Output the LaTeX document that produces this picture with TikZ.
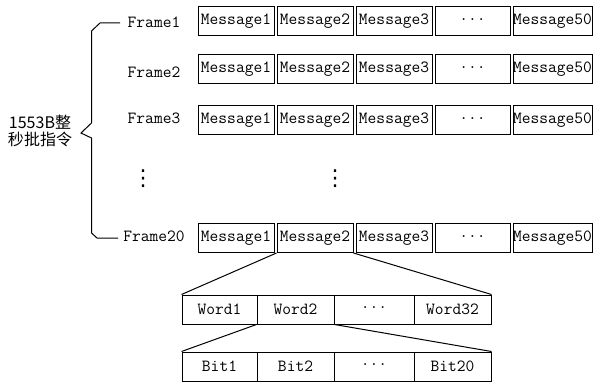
\documentclass[tikz,border=0pt]{standalone}
\usepackage{fontspec}
\newfontfamily\cjk{Noto Sans CJK SC}
\newfontfamily\djv{DejaVu Sans}
\newcommand{\hdots}{\raisebox{3pt}{...}}
\begin{document}
\begin{tikzpicture}[x=1pt,y=-1pt,
  box/.style={draw,line width=1pt,inner sep=0pt,font=\fontsize{17}{19}\selectfont\ttfamily},
  lbl/.style={inner sep=0pt,font=\fontsize{17}{19}\selectfont\ttfamily},
  vdt/.style={inner sep=0pt,font=\djv\fontsize{22}{24}\selectfont},
  ln/.style={line width=1pt}]
\useasboundingbox (0,0) rectangle (593,382);
% message rows
\foreach \r/\yt/\yb in {a/7/36, b/54/84, c/105/135, d/223/253}{
  \node[box,minimum width=76pt,minimum height=29pt] (\r1) at (236,{(\yt+\yb)/2}) {Message1};
  \node[box,minimum width=76pt,minimum height=29pt] (\r2) at (315,{(\yt+\yb)/2}) {Message2};
  \node[box,minimum width=76pt,minimum height=29pt] (\r3) at (394,{(\yt+\yb)/2}) {Message3};
  \node[box,minimum width=75pt,minimum height=29pt] (\r4) at (472.5,{(\yt+\yb)/2}) {\hdots};
  \node[box,minimum width=79pt,minimum height=29pt] (\r5) at (552.5,{(\yt+\yb)/2}) {Message50};
}
% frame labels
\node[lbl] (f1) at (154,22) {Frame1};
\node[lbl] (f2) at (154,72) {Frame2};
\node[lbl] (f3) at (154,118) {Frame3};
\node[lbl] (f20) at (154,236) {Frame20};
% vertical dots
\node[vdt] (vd1) at (143,179) {⋮};
\node[vdt] (vd2) at (335,179) {⋮};
% brace
\coordinate (bt) at (120,23);
\coordinate (bb) at (118,238);
\draw[ln] (bt) -- (100,23) -- (91.5,31) -- (91.5,123) -- (81,133) -- (91.5,138) -- (91.5,233) -- (97,238) -- (bb);
\node[inner sep=0pt,align=center,font=\cjk\fontsize{16}{17}\selectfont] (title) at (40,131) {1553B整\\秒批指令};
% word row
\foreach \n/\xl/\xr/\t in {1/182/257/Word1, 2/257/334/Word2, 3/334/414/{\hdots}, 4/414/491/Word32}{
  \node[box,minimum width={\xr-\xl},minimum height=29pt] (w\n) at ({(\xl+\xr)/2},309.5) {\t};
}
\foreach \n/\xl/\xr/\t in {1/182/257/Bit1, 2/257/334/Bit2, 3/334/414/{\hdots}, 4/414/491/Bit20}{
  \node[box,minimum width={\xr-\xl},minimum height=29pt] (b\n) at ({(\xl+\xr)/2},366.5) {\t};
}
% connectors
\draw[ln] (d2.south west) -- (w1.north west);
\draw[ln] (d2.south east) -- (w4.north east);
\draw[ln] (w2.south west) -- (b1.north west);
\draw[ln] (w2.south east) -- (b4.north east);
\end{tikzpicture}
\end{document}
